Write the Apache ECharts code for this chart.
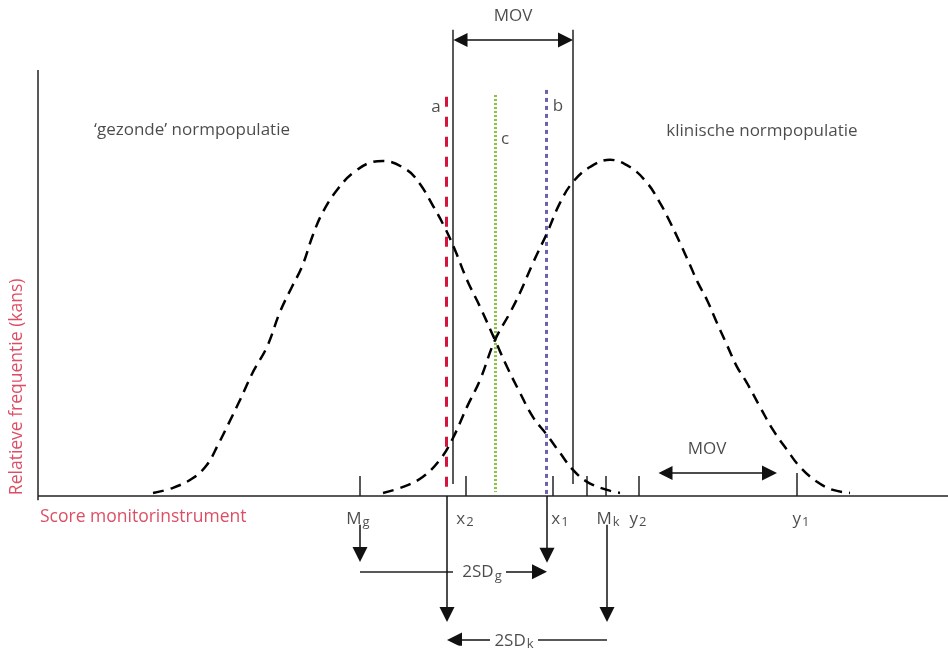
<!DOCTYPE html>
<html>
<head>
<meta charset="utf-8">
<title>MOV - normpopulaties</title>
<script src="https://cdn.jsdelivr.net/npm/echarts@6/dist/echarts.min.js"></script>
<style>
  html, body { margin: 0; padding: 0; background: #fff; }
  #chart { width: 948px; height: 648px; }
</style>
</head>
<body>
<div id="chart"></div>
<script>
// x = score op het monitorinstrument, y = relatieve frequentie (as loopt tot 100)

// 'gezonde' normpopulatie
var healthyCurve = [
  [11.5, 0.7], [13.5, 1.9], [15.5, 4.2], [16.9, 7.3], [18.0, 12.0], [19.0, 16.7],
  [20.2, 22.5], [21.5, 29.1], [22.9, 35.0], [24.2, 43.2], [25.4, 49.1], [26.4, 53.8],
  [27.5, 61.3], [28.5, 66.7], [29.9, 71.8], [31.5, 75.8], [33.5, 78.4], [34.5, 78.6],
  [36.9, 76.5], [38.2, 73.2], [39.5, 68.1], [40.7, 62.9], [41.7, 57.7], [42.9, 50.7],
  [44.2, 44.4], [45.7, 36.6], [46.9, 30.3], [48.2, 24.2], [49.5, 18.5], [50.9, 14.3],
  [52.2, 10.1], [53.5, 6.1], [54.9, 3.3], [56.9, 1.4], [58.2, 0.7]
];

// klinische normpopulatie
var clinicalCurve = [
  [34.5, 0.7], [36.5, 2.1], [38.5, 4.5], [40.2, 8.5], [41.5, 13.6], [42.9, 20.9],
  [44.2, 27.2], [45.7, 36.6], [47.2, 43.0], [48.2, 47.7], [49.5, 54.7], [50.9, 61.7],
  [52.2, 68.8], [53.5, 73.7], [55.2, 77.2], [57.2, 78.9], [59.2, 77.2], [60.9, 73.5],
  [62.2, 68.8], [63.2, 64.3], [64.2, 59.4], [65.2, 54.2], [66.0, 50.0], [66.9, 46.0],
  [67.9, 40.6], [68.9, 35.4], [69.9, 30.3], [70.9, 26.5], [72.2, 20.9], [73.5, 15.5],
  [74.9, 10.8], [76.2, 6.8], [77.9, 3.3], [79.5, 1.4], [81.2, 0.7]
];

// afkappunten a, b, c : [x, yBoven, yOnder]
var cutA = [40.8, 93.7, 0];
var cutB = [50.8, 95.3, 0];
var cutC = [45.7, 94.1, 0.9];

// grenzen van het MOV-interval (zwarte lijnen)
var movLeft = 41.5;
var movRight = 53.5;
var movTop = 109.4;
var movBottom = 2.8;

// streepjes op de scoreas
var tickXs = [32.2, 42.8, 51.5, 54.9, 56.8, 60.1, 75.9];
var tickHeights = [4.7, 4.7, 4.7, 4.7, 4.7, 4.7, 5.4];

// labels onder de as: hoofdletter, subscript, x
var scoreMain = ['M', 'x', 'x', 'M', 'y', 'y'];
var scoreSub = ['g', '2', '1', 'k', '2', '1'];
var scoreLabelX = [32.0, 42.7, 52.2, 57.0, 60.0, 76.3];

// neerwaartse pijlen: [x, yStart, yPunt]
var downArrows = [
  [32.2, -6.8, -15.5],   // Mg
  [40.9, 0, -29.6],      // x2 / a
  [50.9, 0, -15.7],      // x1
  [56.9, -6.8, -29.6]    // Mk
];

// 2SD pijlen: [y, xStart, xPunt] en losse stukken lijn
var sdArrows = [[-17.8, 46.8, 50.9], [-33.8, 45.2, 40.9]];
var sdPlain = [[-17.8, 32.2, 41.5], [-33.8, 50.0, 56.9]];
var sdLabelX = [44.4, 47.6];
var sdLabelSub = ['g', 'k'];

// MOV dubbele pijlen: [y, xLinks, xRechts]
var movArrows = [[107.0, 41.5, 53.5], [5.4, 62.0, 73.9]];
var movLabels = [[47.5, 112.7], [66.9, 11.0]];

var FONT = '"Open Sans", "DejaVu Sans", sans-serif';
var TXT = '#1e1e1e';
var RED = '#d4213d';
var PX_X = 10, PX_Y = 4.26;     // pixels per eenheid
var ARROW_W = 14, ARROW_L = 15;

var chart = echarts.init(document.getElementById('chart'));

function seg(x1, y1, x2, y2, style) {
  var d = { coords: [[x1, y1], [x2, y2]] };
  if (style) d.lineStyle = style;
  return d;
}

// lijnen en pijlen
var plainData = [
  seg(0, 0, 91, 0),
  seg(0, 100, 0, -1),
  seg(movLeft, movTop, movLeft, movBottom),
  seg(movRight, movTop, movRight, movBottom)
];
tickXs.forEach(function (x, i) { plainData.push(seg(x, tickHeights[i], x, 0)); });
sdPlain.forEach(function (s) { plainData.push(seg(s[1], s[0], s[2], s[0])); });

var cutData = [
  seg(cutA[0], cutA[1], cutA[0], cutA[2], { color: '#d4143c', width: 3, type: [10, 10] }),
  seg(cutC[0], cutC[1], cutC[0], cutC[2], { color: '#86c440', width: 3, type: [2, 2] }),
  seg(cutB[0], cutB[1], cutB[0], cutB[2], { color: '#6a62aa', width: 3, type: [4, 4] })
];

var halfL = ARROW_L / 2;
var oneArrowData = [];
downArrows.forEach(function (a) {
  oneArrowData.push(seg(a[0], a[1], a[0], a[2] + halfL / PX_Y));
});
sdArrows.forEach(function (a) {
  var dir = a[2] > a[1] ? 1 : -1;
  oneArrowData.push(seg(a[1], a[0], a[2] - dir * halfL / PX_X, a[0]));
});

var twoArrowData = movArrows.map(function (a) {
  return seg(a[1] + halfL / PX_X, a[0], a[2] - halfL / PX_X, a[0]);
});

// teksten
var rich = {
  m: { fontSize: 17, color: TXT, fontFamily: FONT },
  s: { fontSize: 13, color: TXT, fontFamily: FONT, padding: [7, 0, 0, 1] }
};
function txt(x, y, text, extra) {
  var label = { show: true, position: 'inside', formatter: text, fontSize: 17,
    color: TXT, fontFamily: FONT, rich: rich };
  for (var k in extra) label[k] = extra[k];
  return { value: [x, y], label: label };
}

var textData = [
  txt(15.4, 85.9, '\u2018gezonde\u2019 normpopulatie'),
  txt(72.4, 85.7, 'klinische normpopulatie'),
  txt(39.8, 91.3, 'a'),
  txt(52.0, 91.5, 'b'),
  txt(46.7, 83.8, 'c'),
  txt(0.2, -5.0, 'Score monitorinstrument', { color: RED, align: 'left', fontSize: 17.5 }),
  txt(-2.1, 25.6, 'Relatieve frequentie (kans)', { color: RED, rotate: 90, fontSize: 17.5 })
];
scoreMain.forEach(function (m, i) {
  textData.push(txt(scoreLabelX[i], -5.4, '{m|' + m + '}{s|' + scoreSub[i] + '}'));
});
sdLabelX.forEach(function (x, i) {
  textData.push(txt(x, sdArrows[i][0] - 0.2, '{m|2SD}{s|' + sdLabelSub[i] + '}'));
});
movLabels.forEach(function (p) { textData.push(txt(p[0], p[1], 'MOV')); });

var option = {
  animation: false,
  backgroundColor: '#fff',
  grid: { left: 0, right: 0, top: 6, bottom: 3 },
  xAxis: { type: 'value', min: -3.8, max: 91, show: false },
  yAxis: { type: 'value', min: -35, max: 115, show: false },
  series: [
    {
      type: 'lines', coordinateSystem: 'cartesian2d', symbol: 'none',
      lineStyle: { color: '#222', width: 1.5, opacity: 1 },
      data: plainData, z: 2
    },
    {
      type: 'lines', coordinateSystem: 'cartesian2d', symbol: 'none',
      lineStyle: { opacity: 1 }, data: cutData, z: 3
    },
    {
      type: 'line', data: healthyCurve, smooth: 0.4, showSymbol: false, z: 4,
      lineStyle: { color: '#000', width: 2.5, type: [11, 7] }
    },
    {
      type: 'line', data: clinicalCurve, smooth: 0.4, showSymbol: false, z: 4,
      lineStyle: { color: '#000', width: 2.5, type: [11, 7] }
    },
    {
      type: 'lines', coordinateSystem: 'cartesian2d',
      symbol: ['none', 'triangle'], symbolSize: [ARROW_W, ARROW_L],
      lineStyle: { color: '#111', width: 1.5, opacity: 1 },
      itemStyle: { color: '#111' },
      data: oneArrowData, z: 5
    },
    {
      type: 'lines', coordinateSystem: 'cartesian2d',
      symbol: ['triangle', 'triangle'], symbolSize: [ARROW_W, ARROW_L],
      lineStyle: { color: '#111', width: 1.5, opacity: 1 },
      itemStyle: { color: '#111' },
      data: twoArrowData, z: 5
    },
    {
      type: 'scatter', symbolSize: 0, clip: false, silent: true,
      data: textData, z: 6
    }
  ]
};

chart.setOption(option);

window.addEventListener('resize', function () {
  chart.resize();
});
</script>
</body>
</html>
